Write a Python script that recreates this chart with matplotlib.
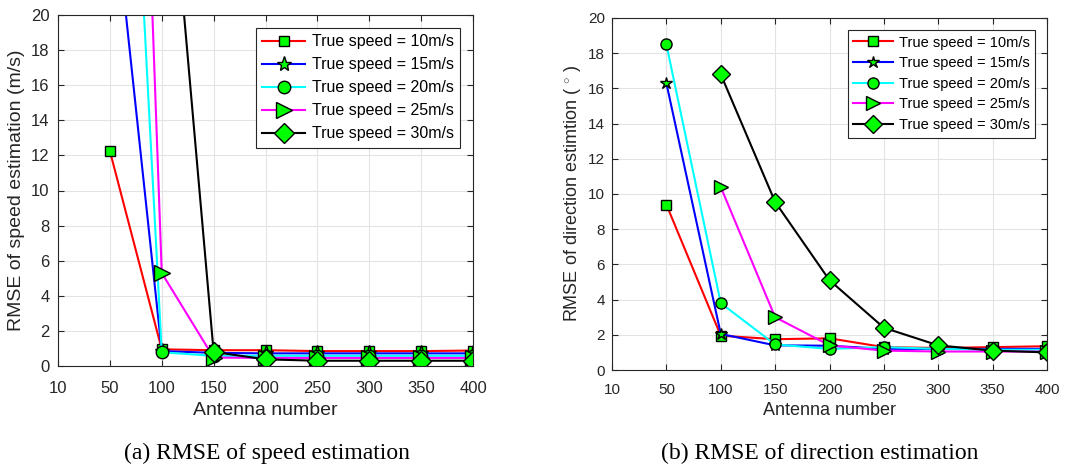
import numpy as np
import matplotlib.pyplot as plt

plt.rcParams['font.family'] = ['Liberation Sans', 'DejaVu Sans']
plt.rcParams['mathtext.fontset'] = 'custom'
plt.rcParams['mathtext.rm'] = 'Liberation Sans'

# antenna counts (equally spaced on the x axis)
antenna = [10, 50, 100, 150, 200, 250, 300, 350, 400]
nan = np.nan

# RMSE of speed estimation (m/s)
speed_10 = [nan, 12.25, 0.95, 0.90, 0.90, 0.85, 0.85, 0.85, 0.88]
speed_15 = [nan, 28.6, 0.85, 0.75, 0.72, 0.72, 0.72, 0.72, 0.72]
speed_20 = [nan, 57.0, 0.78, 0.58, 0.58, 0.58, 0.58, 0.58, 0.58]
speed_25 = [nan, 87.0, 5.30, 0.48, 0.46, 0.46, 0.46, 0.46, 0.46]
speed_30 = [nan, 60.0, 34.5, 0.80, 0.38, 0.30, 0.30, 0.30, 0.30]

# RMSE of direction estimation (degree)
dir_10 = [nan, 9.4, 1.95, 1.75, 1.80, 1.30, 1.25, 1.30, 1.35]
dir_15 = [nan, 16.3, 2.05, 1.40, 1.38, 1.20, 1.20, 1.20, 1.20]
dir_20 = [nan, 18.5, 3.80, 1.45, 1.20, 1.30, 1.20, 1.15, 1.15]
dir_25 = [nan, nan, 10.4, 3.00, 1.40, 1.10, 1.05, 1.05, 1.05]
dir_30 = [nan, nan, 16.8, 9.55, 5.10, 2.40, 1.40, 1.10, 1.00]

legend_labels = ['True speed = 10m/s', 'True speed = 15m/s', 'True speed = 20m/s',
                 'True speed = 25m/s', 'True speed = 30m/s']
line_colors = ['#ff0000', '#0000ff', '#00ffff', '#ff00ff', '#000000']
markers = ['s', '*', 'o', '>', 'D']

pos = np.arange(len(antenna))

fig = plt.figure(figsize=(10.82, 4.66), dpi=100)
ax1 = fig.add_axes([58/1082, 100/466, 415/1082, 351/466])
ax2 = fig.add_axes([612/1082, 96/466, 435/1082, 352/466])


def draw(ax, series, msizes, tick_fs, label_fs, legend_fs, ylabel, lspace):
    for vals, c, m, ms in zip(series, line_colors, markers, msizes):
        ax.plot(pos, vals, color=c, lw=1.5, marker=m, ms=ms,
                mfc='#00ff00', mec='black', mew=1.0)
    ax.set_xlim(0, len(antenna) - 1)
    ax.set_ylim(0, 20)
    ax.set_xticks(pos)
    ax.set_xticklabels([str(a) for a in antenna])
    ax.set_yticks(np.arange(0, 21, 2))
    ax.grid(True, color='#e3e3e3', lw=0.8)
    ax.set_axisbelow(True)
    ax.tick_params(direction='in', top=True, right=True, labelsize=tick_fs,
                   length=4, color='#262626', labelcolor='#262626')
    ax.tick_params(axis='x', pad=11)
    ax.tick_params(axis='y', pad=6)
    for s in ax.spines.values():
        s.set_color('#262626')
        s.set_linewidth(0.8)
    ax.set_xlabel('Antenna number', fontsize=label_fs, color='#262626', labelpad=4)
    ax.set_ylabel(ylabel, fontsize=label_fs, color='#262626', labelpad=4)
    leg = ax.legend(legend_labels, loc='upper right', fontsize=legend_fs,
                    fancybox=False, edgecolor='#262626', framealpha=1,
                    handlelength=2.7, borderaxespad=0.8, labelspacing=lspace,
                    borderpad=0.4, handletextpad=0.4)
    leg.get_frame().set_linewidth(0.8)


draw(ax1, [speed_10, speed_15, speed_20, speed_25, speed_30],
     [7.5, 11, 9, 11, 10], 12, 14, 11.5, 'RMSE of speed estimation (m/s)', 0.5)
draw(ax2, [dir_10, dir_15, dir_20, dir_25, dir_30],
     [6.5, 9, 8, 9.5, 9], 11, 13, 10.5, r'RMSE of direction estimtion ( $^{\circ}$ )', 0.45)
ax2.tick_params(axis='x', pad=9)
ax2.tick_params(axis='y', pad=5)

fig.text(267/1082, 1 - 453/466, '(a) RMSE of speed estimation', ha='center', va='center',
         family='Liberation Serif', fontsize=17)
fig.text(820/1082, 1 - 453/466, '(b) RMSE of direction estimation', ha='center', va='center',
         family='Liberation Serif', fontsize=17)

fig.savefig('out.png', dpi=100)
